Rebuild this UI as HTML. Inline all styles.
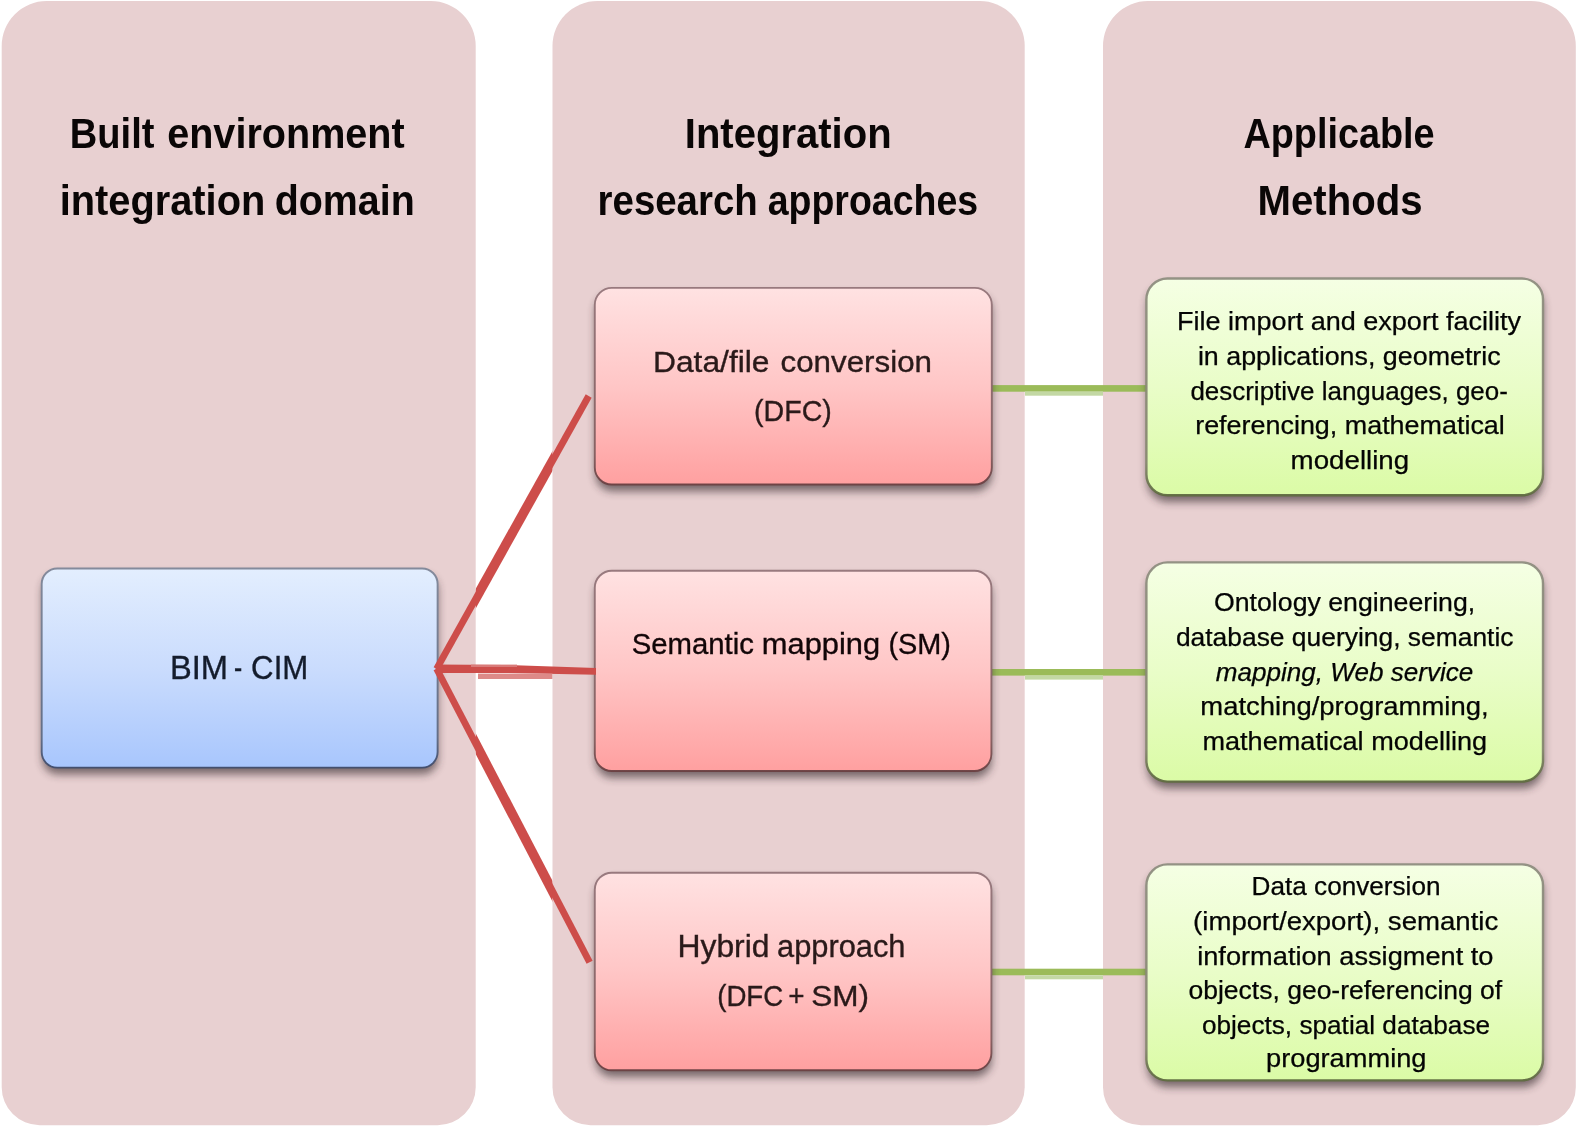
<!DOCTYPE html>
<html><head><meta charset="utf-8"><title>BIM-CIM integration</title>
<style>html,body{margin:0;padding:0;background:#fff;}svg{display:block;will-change:transform;}text{font-family:"Liberation Sans",sans-serif;}</style></head><body>
<svg width="1579" height="1127" viewBox="0 0 1579 1127">
<defs>
<linearGradient id="gb" x1="0" y1="0" x2="0" y2="1"><stop offset="0" stop-color="#e3eefe"/><stop offset="0.5" stop-color="#cadcfd"/><stop offset="1" stop-color="#a8c6fd"/></linearGradient>
<linearGradient id="gp" x1="0" y1="0" x2="0" y2="1"><stop offset="0" stop-color="#ffe2e2"/><stop offset="0.5" stop-color="#ffc6c6"/><stop offset="1" stop-color="#ffa0a0"/></linearGradient>
<linearGradient id="gg" x1="0" y1="0" x2="0" y2="1"><stop offset="0" stop-color="#f5ffe4"/><stop offset="0.5" stop-color="#e9fdc8"/><stop offset="1" stop-color="#dbfba6"/></linearGradient>
<linearGradient id="sb" x1="0" y1="0" x2="0" y2="1"><stop offset="0" stop-color="#7f8698"/><stop offset="0.85" stop-color="#5f6b84"/><stop offset="1" stop-color="#3f4b6b"/></linearGradient>
<linearGradient id="sp" x1="0" y1="0" x2="0" y2="1"><stop offset="0" stop-color="#94757a"/><stop offset="0.85" stop-color="#835e5f"/><stop offset="1" stop-color="#6a4042"/></linearGradient>
<linearGradient id="sg" x1="0" y1="0" x2="0" y2="1"><stop offset="0" stop-color="#8f8e80"/><stop offset="0.85" stop-color="#86876f"/><stop offset="1" stop-color="#5f6b40"/></linearGradient>
<filter id="sh" x="-10%" y="-10%" width="120%" height="130%"><feGaussianBlur stdDeviation="4"/></filter>
</defs>
<rect width="1579" height="1127" fill="#fff"/>
<path d="M46.7 1 H430.7 A45 45 0 0 1 475.7 46 V1087.2 A38 38 0 0 1 437.7 1125.2 H39.7 A38 38 0 0 1 1.7 1087.2 V46 A45 45 0 0 1 46.7 1 Z" fill="#e8d0d1"/>
<path d="M597.5 1 H979.7 A45 45 0 0 1 1024.7 46 V1087.2 A38 38 0 0 1 986.7 1125.2 H590.5 A38 38 0 0 1 552.5 1087.2 V46 A45 45 0 0 1 597.5 1 Z" fill="#e8d0d1"/>
<path d="M1148 1 H1530.8 A45 45 0 0 1 1575.8 46 V1087.2 A38 38 0 0 1 1537.8 1125.2 H1141 A38 38 0 0 1 1103 1087.2 V46 A45 45 0 0 1 1148 1 Z" fill="#e8d0d1"/>
<rect x="990" y="385.09999999999997" width="157" height="6.6" fill="#9bbb59"/>
<rect x="1025" y="391.7" width="78" height="4" fill="#c3d8a4"/>
<rect x="990" y="669.0" width="157" height="6.6" fill="#9bbb59"/>
<rect x="1025" y="675.5999999999999" width="78" height="4" fill="#c3d8a4"/>
<rect x="990" y="968.7" width="157" height="6.6" fill="#9bbb59"/>
<rect x="1025" y="975.3" width="78" height="4" fill="#c3d8a4"/>
<rect x="42.5" y="574.8" width="395.3" height="199.5" rx="15.5" fill="#33262a" opacity="0.62" filter="url(#sh)"/>
<rect x="41.70" y="568.50" width="395.90" height="199.10" rx="15.5" fill="url(#gb)" stroke="url(#sb)" stroke-width="1.9" stroke-opacity="0.95"/>
<rect x="595.6" y="294.2" width="396.4" height="197" rx="17" fill="#33262a" opacity="0.62" filter="url(#sh)"/>
<rect x="594.80" y="287.90" width="397.00" height="196.60" rx="17" fill="url(#gp)" stroke="url(#sp)" stroke-width="1.9" stroke-opacity="0.95"/>
<rect x="595.6" y="577.1" width="396.0" height="200.6" rx="17" fill="#33262a" opacity="0.62" filter="url(#sh)"/>
<rect x="594.80" y="570.80" width="396.60" height="200.20" rx="17" fill="url(#gp)" stroke="url(#sp)" stroke-width="1.9" stroke-opacity="0.95"/>
<rect x="595.6" y="879.0" width="396.0" height="198" rx="17" fill="#33262a" opacity="0.62" filter="url(#sh)"/>
<rect x="594.80" y="872.70" width="396.60" height="197.60" rx="17" fill="url(#gp)" stroke="url(#sp)" stroke-width="1.9" stroke-opacity="0.95"/>
<rect x="1147.2" y="284.8" width="396.0" height="217.2" rx="21" fill="#33262a" opacity="0.62" filter="url(#sh)"/>
<rect x="1146.40" y="278.50" width="396.60" height="216.80" rx="21" fill="url(#gg)" stroke="url(#sg)" stroke-width="2.4" stroke-opacity="0.95"/>
<rect x="1147.2" y="568.7" width="396.0" height="219.6" rx="21" fill="#33262a" opacity="0.62" filter="url(#sh)"/>
<rect x="1146.40" y="562.40" width="396.60" height="219.20" rx="21" fill="url(#gg)" stroke="url(#sg)" stroke-width="2.4" stroke-opacity="0.95"/>
<rect x="1147.2" y="870.7" width="396.0" height="216.4" rx="21" fill="#33262a" opacity="0.62" filter="url(#sh)"/>
<rect x="1146.40" y="864.40" width="396.60" height="216.00" rx="21" fill="url(#gg)" stroke="url(#sg)" stroke-width="2.4" stroke-opacity="0.95"/>
<clipPath id="gap1"><rect x="475.8" y="0" width="76.6" height="1127"/></clipPath>
<g stroke="#cd4d4a" stroke-linecap="butt" fill="none">
<path d="M436.6 668.8 L588.7 396" stroke-width="6.8"/>
<path d="M436.6 668.8 L589.6 962.2" stroke-width="6.8"/>
<g clip-path="url(#gap1)" stroke-width="9.6"><path d="M436.6 668.8 L588.7 396"/><path d="M436.6 668.8 L589.6 962.2"/></g>
</g>
<polygon points="435.6,664.4 505,664.9 596,668.1 596,674.8 505,672.9 435.6,672.9" fill="#cd4d4a"/>
<rect x="478" y="673.6" width="74.4" height="5.4" fill="#dd8a88"/>
<rect x="471" y="664.6" width="46" height="2.4" fill="#d97b79"/>
<text x="69.8" y="147.6" font-size="42.7" font-weight="bold" font-style="normal" fill="#0a0606" stroke="#0a0606" stroke-width="0" textLength="84.6" lengthAdjust="spacingAndGlyphs">Built</text>
<text x="167.2" y="147.6" font-size="42.7" font-weight="bold" font-style="normal" fill="#0a0606" stroke="#0a0606" stroke-width="0" textLength="237.5" lengthAdjust="spacingAndGlyphs">environment</text>
<text x="59.7" y="214.5" font-size="42.7" font-weight="bold" font-style="normal" fill="#0a0606" stroke="#0a0606" stroke-width="0" textLength="205.6" lengthAdjust="spacingAndGlyphs">integration</text>
<text x="274.7" y="214.5" font-size="42.7" font-weight="bold" font-style="normal" fill="#0a0606" stroke="#0a0606" stroke-width="0" textLength="140.1" lengthAdjust="spacingAndGlyphs">domain</text>
<text x="684.8" y="147.6" font-size="42.7" font-weight="bold" font-style="normal" fill="#0a0606" stroke="#0a0606" stroke-width="0" textLength="206.8" lengthAdjust="spacingAndGlyphs">Integration</text>
<text x="597.6" y="214.5" font-size="42.7" font-weight="bold" font-style="normal" fill="#0a0606" stroke="#0a0606" stroke-width="0" textLength="160.1" lengthAdjust="spacingAndGlyphs">research</text>
<text x="767.7" y="214.5" font-size="42.7" font-weight="bold" font-style="normal" fill="#0a0606" stroke="#0a0606" stroke-width="0" textLength="210.4" lengthAdjust="spacingAndGlyphs">approaches</text>
<text x="1243.4" y="147.6" font-size="42.7" font-weight="bold" font-style="normal" fill="#0a0606" stroke="#0a0606" stroke-width="0" textLength="191.2" lengthAdjust="spacingAndGlyphs">Applicable</text>
<text x="1257.6" y="214.5" font-size="42.7" font-weight="bold" font-style="normal" fill="#0a0606" stroke="#0a0606" stroke-width="0" textLength="165.0" lengthAdjust="spacingAndGlyphs">Methods</text>
<text x="169.9" y="679.3" font-size="33" font-weight="normal" font-style="normal" fill="#141c2c" stroke="#141c2c" stroke-width="0.35" textLength="58.1" lengthAdjust="spacingAndGlyphs">BIM</text>
<text x="233.9" y="679.3" font-size="33" font-weight="normal" font-style="normal" fill="#141c2c" stroke="#141c2c" stroke-width="0.35" textLength="8.2" lengthAdjust="spacingAndGlyphs">-</text>
<text x="251.1" y="679.3" font-size="33" font-weight="normal" font-style="normal" fill="#141c2c" stroke="#141c2c" stroke-width="0.35" textLength="57.2" lengthAdjust="spacingAndGlyphs">CIM</text>
<text x="653.0" y="371.6" font-size="29" font-weight="normal" font-style="normal" fill="#2a1a1a" stroke="#2a1a1a" stroke-width="0.35" textLength="116.5" lengthAdjust="spacingAndGlyphs">Data/file</text>
<text x="780.5" y="371.6" font-size="29" font-weight="normal" font-style="normal" fill="#2a1a1a" stroke="#2a1a1a" stroke-width="0.35" textLength="151.5" lengthAdjust="spacingAndGlyphs">conversion</text>
<text x="754.0" y="420.7" font-size="29" font-weight="normal" font-style="normal" fill="#2a1a1a" stroke="#2a1a1a" stroke-width="0.35" textLength="77.8" lengthAdjust="spacingAndGlyphs">(DFC)</text>
<text x="631.7" y="654.2" font-size="30" font-weight="normal" font-style="normal" fill="#120608" stroke="#120608" stroke-width="0.35" textLength="122.2" lengthAdjust="spacingAndGlyphs">Semantic</text>
<text x="761.8" y="654.2" font-size="30" font-weight="normal" font-style="normal" fill="#120608" stroke="#120608" stroke-width="0.35" textLength="118.3" lengthAdjust="spacingAndGlyphs">mapping</text>
<text x="888.4" y="654.2" font-size="30" font-weight="normal" font-style="normal" fill="#120608" stroke="#120608" stroke-width="0.35" textLength="62.6" lengthAdjust="spacingAndGlyphs">(SM)</text>
<text x="677.5" y="956.5" font-size="31" font-weight="normal" font-style="normal" fill="#2a1a1a" stroke="#2a1a1a" stroke-width="0.35" textLength="92.0" lengthAdjust="spacingAndGlyphs">Hybrid</text>
<text x="777.1" y="956.5" font-size="31" font-weight="normal" font-style="normal" fill="#2a1a1a" stroke="#2a1a1a" stroke-width="0.35" textLength="128.4" lengthAdjust="spacingAndGlyphs">approach</text>
<text x="717.2" y="1005.8" font-size="29" font-weight="normal" font-style="normal" fill="#2a1a1a" stroke="#2a1a1a" stroke-width="0.35" textLength="66.0" lengthAdjust="spacingAndGlyphs">(DFC</text>
<text x="788.2" y="1005.8" font-size="29" font-weight="normal" font-style="normal" fill="#2a1a1a" stroke="#2a1a1a" stroke-width="0.35" textLength="16.3" lengthAdjust="spacingAndGlyphs">+</text>
<text x="811.2" y="1005.8" font-size="29" font-weight="normal" font-style="normal" fill="#2a1a1a" stroke="#2a1a1a" stroke-width="0.35" textLength="57.8" lengthAdjust="spacingAndGlyphs">SM)</text>
<text x="1177.0" y="329.7" font-size="25" font-weight="normal" font-style="normal" fill="#040404" stroke="#040404" stroke-width="0.25" textLength="344.0" lengthAdjust="spacingAndGlyphs">File import and export facility</text>
<text x="1197.9" y="364.9" font-size="25" font-weight="normal" font-style="normal" fill="#040404" stroke="#040404" stroke-width="0.25" textLength="302.8" lengthAdjust="spacingAndGlyphs">in applications, geometric</text>
<text x="1190.4" y="399.6" font-size="25" font-weight="normal" font-style="normal" fill="#040404" stroke="#040404" stroke-width="0.25" textLength="317.5" lengthAdjust="spacingAndGlyphs">descriptive languages, geo-</text>
<text x="1195.2" y="434.0" font-size="25" font-weight="normal" font-style="normal" fill="#040404" stroke="#040404" stroke-width="0.25" textLength="309.6" lengthAdjust="spacingAndGlyphs">referencing, mathematical</text>
<text x="1290.6" y="468.6" font-size="25" font-weight="normal" font-style="normal" fill="#040404" stroke="#040404" stroke-width="0.25" textLength="118.6" lengthAdjust="spacingAndGlyphs">modelling</text>
<text x="1214.0" y="610.7" font-size="25" font-weight="normal" font-style="normal" fill="#040404" stroke="#040404" stroke-width="0.25" textLength="261.2" lengthAdjust="spacingAndGlyphs">Ontology engineering,</text>
<text x="1175.9" y="645.6" font-size="25" font-weight="normal" font-style="normal" fill="#040404" stroke="#040404" stroke-width="0.25" textLength="337.6" lengthAdjust="spacingAndGlyphs">database querying, semantic</text>
<text x="1215.8" y="680.6" font-size="25" font-weight="normal" font-style="italic" fill="#040404" stroke="#040404" stroke-width="0.25" textLength="257.5" lengthAdjust="spacingAndGlyphs">mapping, Web service</text>
<text x="1200.3" y="715.0" font-size="25" font-weight="normal" font-style="normal" fill="#040404" stroke="#040404" stroke-width="0.25" textLength="288.3" lengthAdjust="spacingAndGlyphs">matching/programming,</text>
<text x="1202.4" y="749.5" font-size="25" font-weight="normal" font-style="normal" fill="#040404" stroke="#040404" stroke-width="0.25" textLength="284.8" lengthAdjust="spacingAndGlyphs">mathematical modelling</text>
<text x="1251.6" y="894.9" font-size="25" font-weight="normal" font-style="normal" fill="#040404" stroke="#040404" stroke-width="0.25" textLength="188.9" lengthAdjust="spacingAndGlyphs">Data conversion</text>
<text x="1193.1" y="929.8" font-size="25" font-weight="normal" font-style="normal" fill="#040404" stroke="#040404" stroke-width="0.25" textLength="305.2" lengthAdjust="spacingAndGlyphs">(import/export), semantic</text>
<text x="1197.2" y="964.6" font-size="25" font-weight="normal" font-style="normal" fill="#040404" stroke="#040404" stroke-width="0.25" textLength="296.3" lengthAdjust="spacingAndGlyphs">information assigment to</text>
<text x="1188.5" y="999.3" font-size="25" font-weight="normal" font-style="normal" fill="#040404" stroke="#040404" stroke-width="0.25" textLength="313.7" lengthAdjust="spacingAndGlyphs">objects, geo-referencing of</text>
<text x="1201.9" y="1034.2" font-size="25" font-weight="normal" font-style="normal" fill="#040404" stroke="#040404" stroke-width="0.25" textLength="288.2" lengthAdjust="spacingAndGlyphs">objects, spatial database</text>
<text x="1266.0" y="1067.0" font-size="25" font-weight="normal" font-style="normal" fill="#040404" stroke="#040404" stroke-width="0.25" textLength="160.5" lengthAdjust="spacingAndGlyphs">programming</text>
</svg></body></html>
